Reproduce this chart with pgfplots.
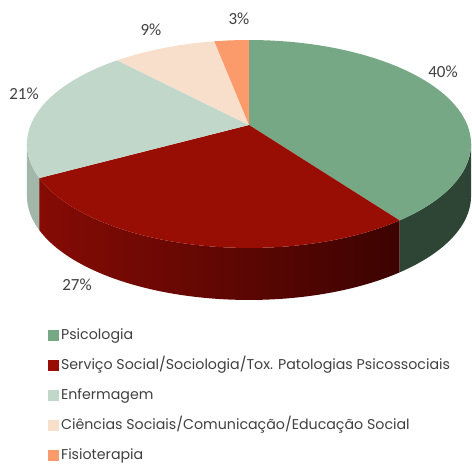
\documentclass[border=0pt]{standalone}
\usepackage{pgfplots}
\usepackage{pgfplotstable}
\pgfplotsset{compat=1.18}
\usepackage{fontspec}
\setmainfont{Poppins}
\newfontfamily\labfont{Carlito}
\definecolor{cA}{HTML}{76A886}
\definecolor{cAs}{HTML}{2E4536}
\definecolor{cB}{HTML}{990E04}
\definecolor{cBl}{HTML}{860B05}
\definecolor{cBr}{HTML}{3C0301}
\definecolor{cC}{HTML}{C0D7CA}
\definecolor{cCs}{HTML}{A2B6AA}
\definecolor{cD}{HTML}{F8DFCB}
\definecolor{cE}{HTML}{FB9A6A}
\definecolor{txt}{HTML}{404040}

\pgfplotstableread{
value
40
27
21
9
3
}\piedata
\pgfplotstablegetelem{0}{value}\of\piedata \let\vA\pgfplotsretval
\pgfplotstablegetelem{1}{value}\of\piedata \let\vB\pgfplotsretval
\pgfplotstablegetelem{2}{value}\of\piedata \let\vC\pgfplotsretval
\pgfplotstablegetelem{3}{value}\of\piedata \let\vD\pgfplotsretval
\pgfplotstablegetelem{4}{value}\of\piedata \let\vE\pgfplotsretval
\pgfmathsetmacro\sA{90}
\pgfmathsetmacro\eA{\sA-3.6*\vA}
\pgfmathsetmacro\eB{\eA-3.6*\vB}
\pgfmathsetmacro\eC{\eB-3.6*\vC}
\pgfmathsetmacro\eD{\eC-3.6*\vD}
\pgfmathsetmacro\eE{\eD-3.6*\vE}
% perspective projection of the pie disc
\def\ax{249}\def\ay{340}
\def\pa{218.3}\def\pb{100.5}\def\pk{0.1827}\def\dep{52}
\pgfmathsetmacro\sil{asin(-\pk)}        % right silhouette angle
\pgfmathsetmacro\silL{-180-\sil}        % left silhouette angle
\pgfplotsset{sq/.style={legend image code/.code={\fill[#1] (0bp,-4.5bp) rectangle (9.5bp,5bp);}}}

\begin{document}
\begin{tikzpicture}
\begin{axis}[width=472bp,height=465bp,scale only axis,
  xmin=0,xmax=472,ymin=0,ymax=465,hide axis,clip=false,
  legend cell align=left,
  legend style={at={(axis cs:48,137)},anchor=north west,draw=none,fill=none,
    inner sep=0pt,font=\fontsize{14.2bp}{16bp}\selectfont\color{txt},
    nodes={inner sep=0pt,text height=11bp,text depth=4bp},
    row sep=15bp,column sep=3bp},
]
\path (axis cs:0,0) rectangle (axis cs:472,465);
\addlegendimage{sq=cA}
\addlegendentry{Psicologia}
\addlegendimage{sq=cB}
\addlegendentry{Serviço Social/Sociologia/Tox. Patologias Psicossociais}
\addlegendimage{sq=cC}
\addlegendentry{Enfermagem}
\addlegendimage{sq=cD}
\addlegendentry{Ciências Sociais/Comunicação/Educação Social}
\addlegendimage{sq=cE}
\addlegendentry{Fisioterapia}
% sides
\fill[cAs] plot[domain=\eA:\sil,samples=40] ({\ax+\pa*cos(\x)/(1+\pk*sin(\x))},{\ay+\pb*sin(\x)/(1+\pk*sin(\x))})
  -- plot[domain=\sil:\eA,samples=40] ({\ax+\pa*cos(\x)/(1+\pk*sin(\x))},{\ay-\dep+\pb*sin(\x)/(1+\pk*sin(\x))}) -- cycle;
\shade[left color=cBl,right color=cBr] plot[domain=\eB:\eA,samples=60] ({\ax+\pa*cos(\x)/(1+\pk*sin(\x))},{\ay+\pb*sin(\x)/(1+\pk*sin(\x))})
  -- plot[domain=\eA:\eB,samples=60] ({\ax+\pa*cos(\x)/(1+\pk*sin(\x))},{\ay-\dep+\pb*sin(\x)/(1+\pk*sin(\x))}) -- cycle;
\fill[cCs] plot[domain=\silL:\eB,samples=30] ({\ax+\pa*cos(\x)/(1+\pk*sin(\x))},{\ay+\pb*sin(\x)/(1+\pk*sin(\x))})
  -- plot[domain=\eB:\silL,samples=30] ({\ax+\pa*cos(\x)/(1+\pk*sin(\x))},{\ay-\dep+\pb*sin(\x)/(1+\pk*sin(\x))}) -- cycle;
% tops
\fill[cA] (\ax,\ay) -- plot[domain=\sA:\eA,samples=80] ({\ax+\pa*cos(\x)/(1+\pk*sin(\x))},{\ay+\pb*sin(\x)/(1+\pk*sin(\x))}) -- cycle;
\fill[cB] (\ax,\ay) -- plot[domain=\eA:\eB,samples=60] ({\ax+\pa*cos(\x)/(1+\pk*sin(\x))},{\ay+\pb*sin(\x)/(1+\pk*sin(\x))}) -- cycle;
\fill[cC] (\ax,\ay) -- plot[domain=\eB:\eC,samples=50] ({\ax+\pa*cos(\x)/(1+\pk*sin(\x))},{\ay+\pb*sin(\x)/(1+\pk*sin(\x))}) -- cycle;
\fill[cD] (\ax,\ay) -- plot[domain=\eC:\eD,samples=30] ({\ax+\pa*cos(\x)/(1+\pk*sin(\x))},{\ay+\pb*sin(\x)/(1+\pk*sin(\x))}) -- cycle;
\fill[cE] (\ax,\ay) -- plot[domain=\eD:\eE,samples=20] ({\ax+\pa*cos(\x)/(1+\pk*sin(\x))},{\ay+\pb*sin(\x)/(1+\pk*sin(\x))}) -- cycle;
% labels
\begin{scope}[every node/.style={font=\labfont\fontsize{17bp}{19bp}\selectfont,text=txt}]
\node at (axis cs:443,393) {\vA\%};
\node at (axis cs:77,180) {\vB\%};
\node at (axis cs:24,371) {\vC\%};
\node at (axis cs:151,435) {\vD\%};
\node at (axis cs:239,446) {\vE\%};
\end{scope}
\end{axis}
\end{tikzpicture}
\end{document}
